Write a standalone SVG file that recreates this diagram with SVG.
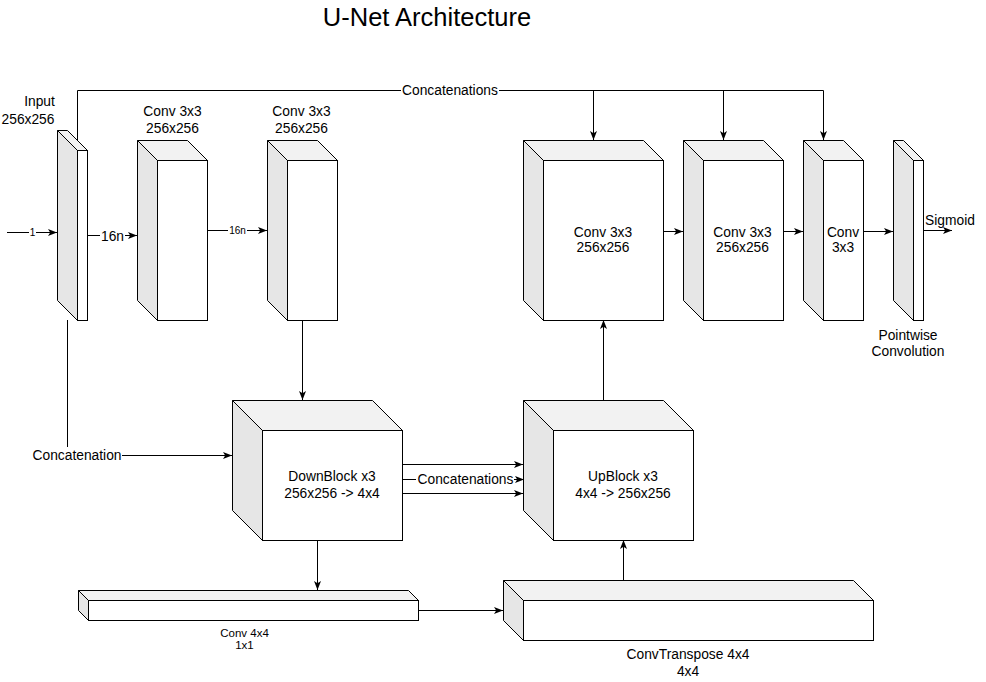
<svg xmlns="http://www.w3.org/2000/svg" width="986" height="682" viewBox="0 0 986 682">
<defs>
<marker id="arr" markerUnits="userSpaceOnUse" markerWidth="10" markerHeight="8" refX="9" refY="4" orient="auto">
<path d="M0,0.5 L9,4 L0,7.5 L2.2,4 Z" fill="#000"/>
</marker>
</defs>
<style>
text{font-family:"Liberation Sans",Arial,Helvetica,sans-serif;font-size:13.8px;fill:#000;dominant-baseline:central;text-anchor:middle}
.sm{font-size:10px}
.s11{font-size:11.5px}
.title{font-size:25.5px}
.e{fill:none;stroke:#000;stroke-width:1}
.ea{fill:none;stroke:#000;stroke-width:1;marker-end:url(#arr)}
.side{fill:#e6e6e6;stroke:#000;stroke-width:1;stroke-linejoin:miter}
.top{fill:#f2f2f2;stroke:#000;stroke-width:1}
.front{fill:#fff;stroke:#000;stroke-width:1}
</style>
<rect width="986" height="682" fill="#fff"/>
<text class="title" x="427" y="17">U-Net Architecture</text>

<g id="connectors">
<path class="ea" d="M7,232.5 H29 M36,232.5 H57"/>
<text class="sm" x="32.5" y="232">1</text>
<path class="ea" d="M87,235.5 H100 M125,235.5 H137"/>
<text x="112.5" y="236">16n</text>
<path class="ea" d="M207,230.5 H228 M247,230.5 H267"/>
<text class="sm" x="237.5" y="230.5">16n</text>
<path class="ea" d="M302.5,320 V400"/>
<path class="e" d="M67.5,320 V447"/>
<path class="ea" d="M122,455.5 H232"/>
<text x="77" y="455">Concatenation</text>
<path class="e" d="M77.5,145 V90.5 H401 M499,90.5 H823.5"/>
<text x="450" y="90">Concatenations</text>
<path class="ea" d="M593.5,90.5 V140"/>
<path class="ea" d="M723.5,90.5 V140"/>
<path class="ea" d="M823.5,90.5 V140"/>
<path class="ea" d="M663,231.5 H683"/>
<path class="ea" d="M783,231.5 H803"/>
<path class="ea" d="M863,231.5 H893"/>
<path class="ea" d="M923,230.5 H952"/>
<text x="950" y="220">Sigmoid</text>
<path class="ea" d="M603.5,400 V320"/>
<path class="ea" d="M402,464.5 H523"/>
<path class="ea" d="M402,479.5 H416 M514,479.5 H524"/>
<text x="465.5" y="479">Concatenations</text>
<path class="ea" d="M402,493.5 H523"/>
<path class="ea" d="M317.5,540 V590"/>
<path class="ea" d="M418,610.5 H503"/>
<path class="ea" d="M623.5,580 V540"/>
</g>

<g id="input">
<polygon class="side" points="57.5,130.5 77.5,150.5 77.5,320.5 57.5,300.5"/>
<polygon class="top" points="57.5,130.5 67.5,130.5 87.5,150.5 77.5,150.5"/>
<rect class="front" x="77.5" y="150.5" width="10" height="170"/>
<text x="39.5" y="101">Input</text>
<text x="28" y="119">256x256</text>
</g>

<g id="conv1">
<polygon class="side" points="137.5,140.5 157.5,160.5 157.5,320.5 137.5,300.5"/>
<polygon class="top" points="137.5,140.5 187.5,140.5 207.5,160.5 157.5,160.5"/>
<rect class="front" x="157.5" y="160.5" width="50" height="160"/>
<text x="172.5" y="111">Conv 3x3</text>
<text x="172.5" y="128">256x256</text>
</g>

<g id="conv2">
<polygon class="side" points="267.5,140.5 287.5,160.5 287.5,320.5 267.5,300.5"/>
<polygon class="top" points="267.5,140.5 317.5,140.5 337.5,160.5 287.5,160.5"/>
<rect class="front" x="287.5" y="160.5" width="50" height="160"/>
<text x="301.5" y="111">Conv 3x3</text>
<text x="301.5" y="128">256x256</text>
</g>

<g id="convA">
<polygon class="side" points="523.5,140.5 543.5,160.5 543.5,320.5 523.5,300.5"/>
<polygon class="top" points="523.5,140.5 643.5,140.5 663.5,160.5 543.5,160.5"/>
<rect class="front" x="543.5" y="160.5" width="120" height="160"/>
<text x="603" y="232">Conv 3x3</text>
<text x="603" y="247">256x256</text>
</g>

<g id="convB">
<polygon class="side" points="683.5,140.5 703.5,160.5 703.5,320.5 683.5,300.5"/>
<polygon class="top" points="683.5,140.5 763.5,140.5 783.5,160.5 703.5,160.5"/>
<rect class="front" x="703.5" y="160.5" width="80" height="160"/>
<text x="742.5" y="232">Conv 3x3</text>
<text x="742.5" y="247">256x256</text>
</g>

<g id="convC">
<polygon class="side" points="803.5,140.5 823.5,160.5 823.5,320.5 803.5,300.5"/>
<polygon class="top" points="803.5,140.5 843.5,140.5 863.5,160.5 823.5,160.5"/>
<rect class="front" x="823.5" y="160.5" width="40" height="160"/>
<text x="843" y="232">Conv</text>
<text x="843" y="247">3x3</text>
</g>

<g id="pointwise">
<polygon class="side" points="893.5,140.5 913.5,160.5 913.5,320.5 893.5,300.5"/>
<polygon class="top" points="893.5,140.5 903.5,140.5 923.5,160.5 913.5,160.5"/>
<rect class="front" x="913.5" y="160.5" width="10" height="160"/>
<text x="908" y="335">Pointwise</text>
<text x="908" y="351">Convolution</text>
</g>

<g id="downblock">
<polygon class="side" points="232.5,400.5 262.5,430.5 262.5,540.5 232.5,510.5"/>
<polygon class="top" points="232.5,400.5 372.5,400.5 402.5,430.5 262.5,430.5"/>
<rect class="front" x="262.5" y="430.5" width="140" height="110"/>
<text x="332" y="476">DownBlock x3</text>
<text x="332" y="493">256x256 -&gt; 4x4</text>
</g>

<g id="upblock">
<polygon class="side" points="523.5,400.5 553.5,430.5 553.5,540.5 523.5,510.5"/>
<polygon class="top" points="523.5,400.5 663.5,400.5 693.5,430.5 553.5,430.5"/>
<rect class="front" x="553.5" y="430.5" width="140" height="110"/>
<text x="623" y="476">UpBlock x3</text>
<text x="623" y="493">4x4 -&gt; 256x256</text>
</g>

<g id="conv4x4">
<polygon class="side" points="78.5,590.5 88.5,600.5 88.5,620.5 78.5,610.5"/>
<polygon class="top" points="78.5,590.5 408.5,590.5 418.5,600.5 88.5,600.5"/>
<rect class="front" x="88.5" y="600.5" width="330" height="20"/>
<text class="s11" x="244.5" y="633">Conv 4x4</text>
<text class="s11" x="244.5" y="645">1x1</text>
</g>

<g id="convtranspose">
<polygon class="side" points="503.5,580.5 523.5,600.5 523.5,640.5 503.5,620.5"/>
<polygon class="top" points="503.5,580.5 853.5,580.5 873.5,600.5 523.5,600.5"/>
<rect class="front" x="523.5" y="600.5" width="350" height="40"/>
<text x="688" y="654">ConvTranspose 4x4</text>
<text x="688" y="671">4x4</text>
</g>
</svg>
